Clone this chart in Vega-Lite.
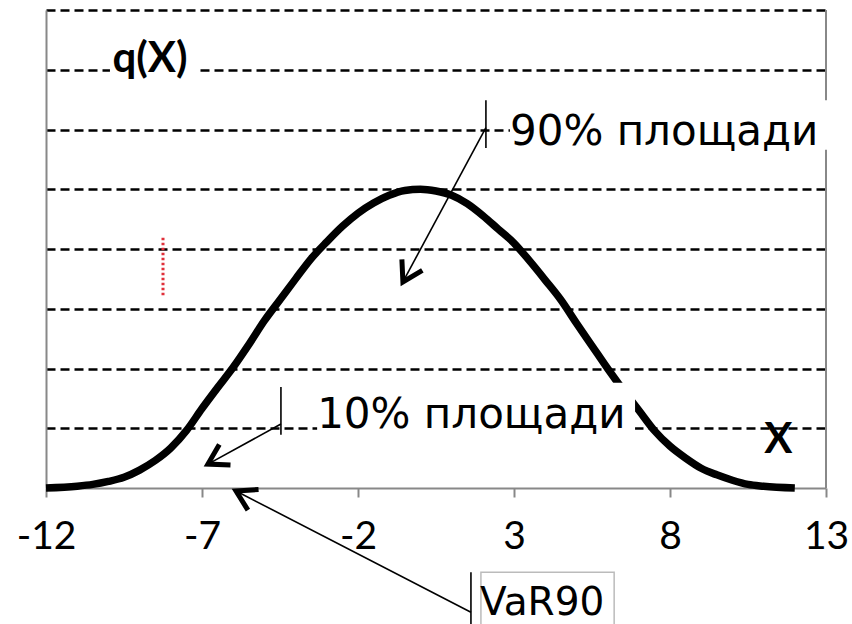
{
  "$schema": "https://vega.github.io/schema/vega-lite/v6.json",
  "width": 780,
  "height": 478,
  "autosize": "none",
  "padding": {"left": 46, "top": 10, "right": 26, "bottom": 136},
  "background": "white",
  "config": {"view": {"stroke": null}},
  "datasets": {
    "curve": [
      {"x": -12, "y": 0.0}, {"x": -11, "y": 0.03}, {"x": -10.5, "y": 0.06}, {"x": -10, "y": 0.11},
      {"x": -9.5, "y": 0.18}, {"x": -9, "y": 0.3}, {"x": -8.5, "y": 0.46}, {"x": -8, "y": 0.67},
      {"x": -7.5, "y": 0.96}, {"x": -7, "y": 1.33}, {"x": -6.5, "y": 1.68}, {"x": -6, "y": 2.02},
      {"x": -5.5, "y": 2.4}, {"x": -5, "y": 2.8}, {"x": -4.5, "y": 3.15}, {"x": -4, "y": 3.5},
      {"x": -3.5, "y": 3.84}, {"x": -3, "y": 4.12}, {"x": -2.5, "y": 4.38}, {"x": -2, "y": 4.6},
      {"x": -1.5, "y": 4.77}, {"x": -1, "y": 4.9}, {"x": -0.5, "y": 4.98}, {"x": 0, "y": 5.0},
      {"x": 0.5, "y": 4.97}, {"x": 1, "y": 4.9}, {"x": 1.5, "y": 4.76}, {"x": 2, "y": 4.56},
      {"x": 2.5, "y": 4.33}, {"x": 3, "y": 4.1}, {"x": 3.5, "y": 3.8}, {"x": 4, "y": 3.48},
      {"x": 4.5, "y": 3.15}, {"x": 5, "y": 2.76}, {"x": 5.5, "y": 2.38}, {"x": 6, "y": 2.0},
      {"x": 6.5, "y": 1.64}, {"x": 7, "y": 1.3}, {"x": 7.5, "y": 0.96}, {"x": 8, "y": 0.7},
      {"x": 8.5, "y": 0.5}, {"x": 9, "y": 0.33}, {"x": 9.5, "y": 0.22}, {"x": 10, "y": 0.13},
      {"x": 10.5, "y": 0.06}, {"x": 11, "y": 0.03}, {"x": 12, "y": 0.0}
    ],
    "border": [{"x": 13, "y": 0, "y2": 8}],
    "red": [{"x": -8.25, "y": 4.19, "y2": 3.19}],
    "masks": [
      {"x": -9.95, "x2": -7.16, "y": 7.4, "y2": 6.86},
      {"x": 2.87, "x2": 13.3, "y": 6.49, "y2": 5.66},
      {"x": -3.31, "x2": 6.88, "y": 1.76, "y2": 0.8}
    ],
    "varbox": [{"x": 1.94, "x2": 6.21, "y": -1.41, "y2": -2.6}],
    "segs": [
      {"x": 2.1, "y": 6.49, "x2": 2.1, "y2": 5.69},
      {"x": 2.1, "y": 6.03, "x2": -0.56, "y2": 3.45},
      {"x": -4.47, "y": 1.69, "x2": -4.47, "y2": 0.89},
      {"x": -4.47, "y": 1.07, "x2": -6.81, "y2": 0.4},
      {"x": 1.62, "y": -1.41, "x2": 1.62, "y2": -2.45},
      {"x": 1.62, "y": -2.08, "x2": -5.91, "y2": -0.05}
    ],
    "heads": [
      {"x": -0.56, "y": 3.45, "a": 118.3},
      {"x": -6.81, "y": 0.4, "a": 151.3},
      {"x": -5.91, "y": -0.05, "a": 207.2}
    ],
    "texts": [
      {"x": 2.87, "y": 5.74, "t": "90% площади", "s": 42},
      {"x": -3.31, "y": 1.0, "t": "10% площади", "s": 42},
      {"x": 1.91, "y": -2.13, "t": "VaR90", "s": 39}
    ],
    "btexts": [
      {"x": -9.87, "y": 6.96, "t": "q(X)"},
      {"x": 11.02, "y": 0.586, "t": "X"}
    ]
  },
  "encoding": {
    "x": {
      "field": "x", "type": "quantitative",
      "scale": {"domain": [-12, 13], "nice": false, "zero": false},
      "axis": {
        "values": [-12, -7, -2, 3, 8, 13], "title": null, "grid": false,
        "labelExpr": "toString(datum.value)",
        "labelFont": "Lato", "labelFontSize": 39, "labelColor": "black",
        "labelBaseline": "alphabetic", "labelPadding": 51, "labelFlush": false, "labelOverlap": false,
        "tickSize": 9, "tickColor": "#888888", "tickWidth": 2,
        "domainColor": "#888888", "domainWidth": 2
      }
    },
    "y": {
      "field": "y", "type": "quantitative",
      "scale": {"domain": [0, 8], "nice": false, "zero": false},
      "axis": {
        "values": [1, 2, 3, 4, 5, 6, 7, 8], "title": null, "labels": false, "ticks": false,
        "domainColor": "#888888", "domainWidth": 2,
        "grid": true, "gridColor": "#000000", "gridDash": [9, 5], "gridWidth": 2.5, "gridOpacity": 1
      }
    }
  },
  "layer": [
    {
      "data": {"name": "border"},
      "mark": {"type": "rule", "color": "#888888", "strokeWidth": 2},
      "encoding": {"y2": {"field": "y2"}}
    },
    {
      "data": {"name": "red"},
      "mark": {"type": "rule", "color": "#e0303a", "strokeWidth": 3, "strokeDash": [2.5, 2.5]},
      "encoding": {"y2": {"field": "y2"}}
    },
    {
      "data": {"name": "curve"},
      "mark": {"type": "line", "color": "black", "strokeWidth": 7.5, "interpolate": "monotone"},
      "encoding": {}
    },
    {
      "data": {"name": "masks"},
      "mark": {"type": "rect", "fill": "white", "strokeWidth": 0},
      "encoding": {"x2": {"field": "x2"}, "y2": {"field": "y2"}}
    },
    {
      "data": {"name": "varbox"},
      "mark": {"type": "rect", "fill": "white", "stroke": "#bbbbbb", "strokeWidth": 1.5},
      "encoding": {"x2": {"field": "x2"}, "y2": {"field": "y2"}}
    },
    {
      "data": {"name": "segs"},
      "mark": {"type": "rule", "color": "black", "strokeWidth": 1.6},
      "encoding": {"x2": {"field": "x2"}, "y2": {"field": "y2"}}
    },
    {
      "data": {"name": "heads"},
      "mark": {"type": "point", "shape": "M -1 -0.6 L 0 0 L -1 0.6", "filled": false, "color": "black", "strokeWidth": 5, "size": 1500, "opacity": 1},
      "encoding": {"angle": {"field": "a", "type": "quantitative", "scale": null}}
    },
    {
      "data": {"name": "texts"},
      "mark": {"type": "text", "font": "DejaVu Sans", "align": "left", "baseline": "alphabetic", "color": "black"},
      "encoding": {
        "text": {"field": "t"},
        "size": {"field": "s", "type": "quantitative", "scale": null}
      }
    },
    {
      "data": {"name": "btexts"},
      "mark": {"type": "text", "font": "Lato", "fontWeight": "bold", "fontSize": 42, "align": "left", "baseline": "alphabetic", "color": "black"},
      "encoding": {"text": {"field": "t"}}
    }
  ]
}
